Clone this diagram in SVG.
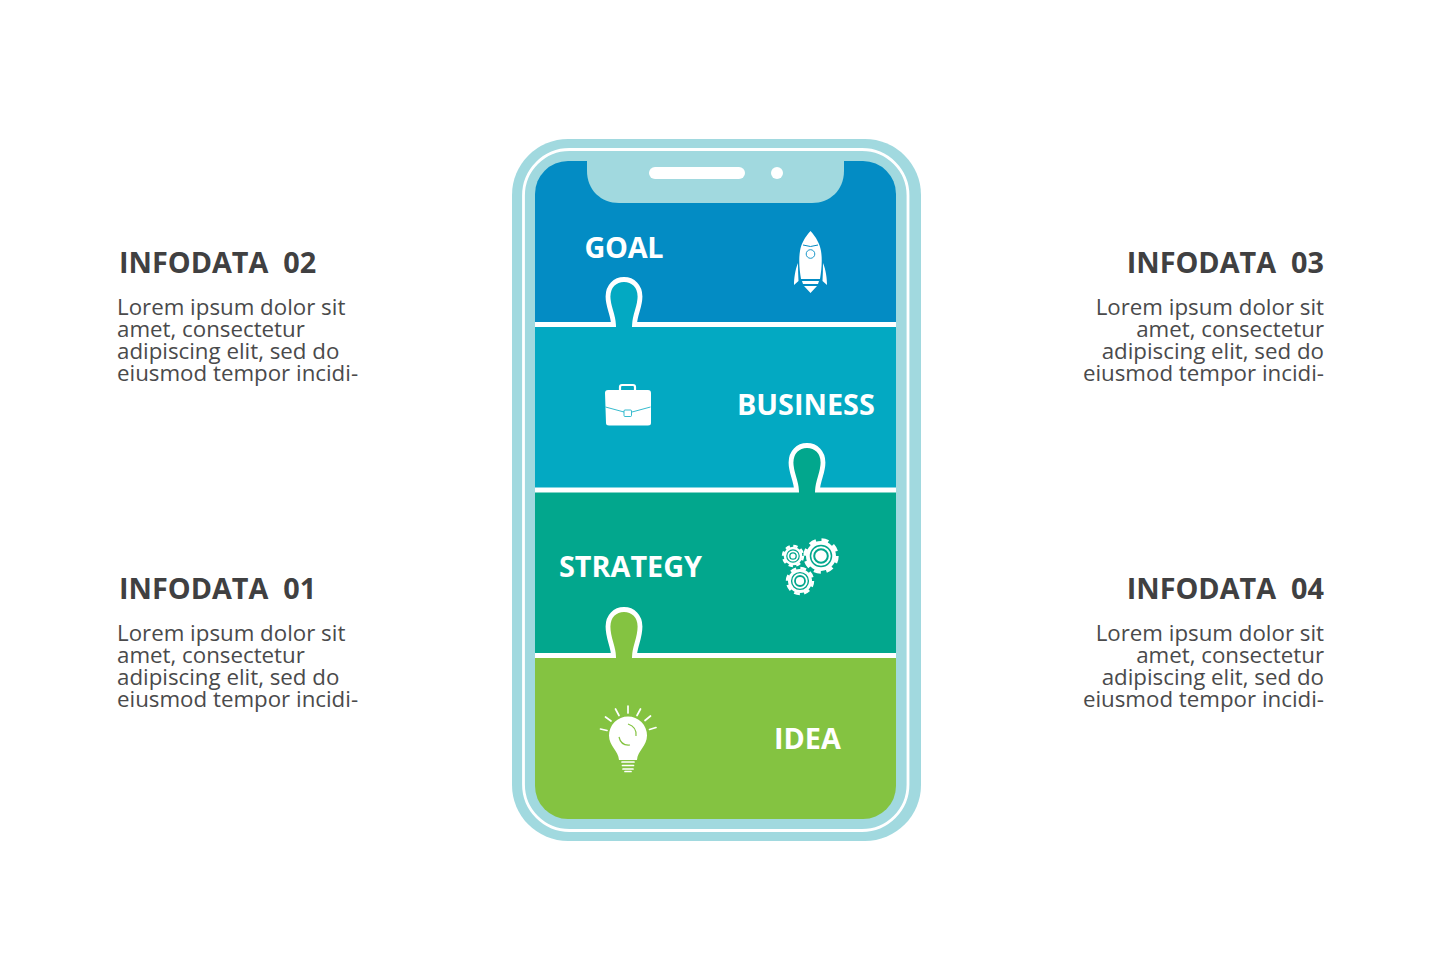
<svg xmlns="http://www.w3.org/2000/svg" width="1435" height="980" viewBox="0 0 1435 980">
<style>
text{font-family:"Open Sans","Noto Sans","DejaVu Sans",sans-serif}
.h{font-size:28.8px;font-weight:700;fill:#404041}
.b{font-size:22.3px;fill:#4a4a4b}
.r{text-anchor:end}
.l{font-size:28.8px;font-weight:700;fill:#fff}
.seam{fill:none;stroke:#fff;stroke-width:4.8}
.w{fill:#fff}
.ray{stroke:#fff;stroke-width:1.7;stroke-linecap:round;fill:none}
</style>
<defs>
<clipPath id="screen"><rect x="535" y="161" width="361" height="658" rx="33"/></clipPath>
</defs>
<rect width="1435" height="980" fill="#fff"/>
<g id="phone">
<rect x="512" y="139" width="409" height="702" rx="56" fill="#a1d9df"/>
<rect x="523.500" y="149.500" width="384.500" height="681" rx="46" fill="none" stroke="#fff" stroke-width="2.8"/>
</g>
<g clip-path="url(#screen)">
<g id="band-goal"><rect x="535" y="161" width="361" height="170" fill="#038cc4"/></g>
<g id="band-business">
<path fill="#03a9c2" d="M530 324.500H613.500C613 314 608 307 608 296.500C608 286 615 279.500 624 279.500C633 279.500 640 286 640 296.500C640 307 635 314 634.500 324.500H900V495H530Z"/>
<path class="seam" d="M530 324.500H613.500C613 314 608 307 608 296.500C608 286 615 279.500 624 279.500C633 279.500 640 286 640 296.500C640 307 635 314 634.500 324.500H900"/>
</g>
<g id="band-strategy">
<path fill="#02a78d" d="M530 490H796.500C796 480 791 473 791 462.500C791 452 798 445.500 807 445.500C816 445.500 823 452 823 462.500C823 473 818 480 817.500 490H900V660H530Z"/>
<path class="seam" d="M530 490H796.500C796 480 791 473 791 462.500C791 452 798 445.500 807 445.500C816 445.500 823 452 823 462.500C823 473 818 480 817.500 490H900"/>
</g>
<g id="band-idea">
<path fill="#84c341" d="M530 655.500H613.500C613 645.500 608 638.500 608 626.500C608 616 615 609.500 624 609.500C633 609.500 640 616 640 626.500C640 638.500 635 645.500 634.500 655.500H900V825H530Z"/>
<path class="seam" d="M530 655.500H613.500C613 645.500 608 638.500 608 626.500C608 616 615 609.500 624 609.500C633 609.500 640 616 640 626.500C640 638.500 635 645.500 634.500 655.500H900"/>
</g>
</g>
<g id="notch">
<path fill="#a1d9df" d="M587 161H844V171C844 190 830 203 812 203H619C601 203 587 190 587 171Z"/>
<rect x="649" y="167" width="96" height="12" rx="6" fill="#fff"/>
<circle cx="777" cy="173" r="6" fill="#fff"/>
</g>
<g id="label-goal">
<text class="l" x="584.500" y="257.500" textLength="79">GOAL</text>
<g id="icon-rocket">
<path class="w" d="M810.500 231C816 237 820 244 821 251C822.500 260 821.500 270 820 279H801C799.500 270 798.500 260 800 251C801 244 805 237 810.500 231Z"/>
<path class="w" d="M798 263C795 270 794 279 794 285L798.500 281C798.200 275 798 269 798 263ZM823 263C826 270 827 279 827 285L822.500 281C822.800 275 823 269 823 263Z"/>
<path class="w" d="M802 281H819L818 284H803ZM804 286H817L810.500 293Z"/>
<circle cx="810.500" cy="254" r="4.300" fill="none" stroke="#038cc4" stroke-width="0.9"/>
<path d="M803 245Q810.500 248 818 245" fill="none" stroke="#038cc4" stroke-width="1"/>
</g>
</g>
<g id="label-business">
<text class="l" x="737" y="414.500">BUSINESS</text>
<g id="icon-briefcase">
<path fill="none" stroke="#fff" stroke-width="2.2" d="M620 390V387Q620 385 622 385H633Q635 385 635 387V390"/>
<path class="w" d="M608 390H648Q651 390 651 393V423Q651 425.500 648 425.500H609Q606 425.500 606 423L605 393Q605 390 608 390Z"/>
<path fill="none" stroke="#03a9c2" stroke-width="0.8" d="M605.500 407L624 412M632 412L650.500 407"/>
<rect x="624" y="410" width="7.500" height="6.500" rx="1" fill="#fff" stroke="#03a9c2" stroke-width="0.8"/>
</g>
</g>
<g id="label-strategy">
<text class="l" x="559" y="576.500">STRATEGY</text>
<g id="icon-gears">
<g id="gear-large">
<circle cx="821" cy="556" r="15" fill="#fff"/>
<circle cx="821" cy="556" r="16" fill="none" stroke="#fff" stroke-width="3.4" stroke-dasharray="7 5.57"/>
<circle cx="821" cy="556" r="10.500" fill="none" stroke="#02a78d" stroke-width="1.5"/>
<circle cx="821" cy="556" r="6.800" fill="none" stroke="#02a78d" stroke-width="2"/>
</g>
<g id="gear-small">
<circle cx="793" cy="556" r="9.300" fill="#fff"/>
<circle cx="793" cy="556" r="10" fill="none" stroke="#fff" stroke-width="2.4" stroke-dasharray="4.400 3.450"/>
<circle cx="793" cy="556" r="6.200" fill="none" stroke="#02a78d" stroke-width="1.2"/>
<circle cx="793" cy="556" r="3.200" fill="none" stroke="#02a78d" stroke-width="1.3"/>
</g>
<g id="gear-mid">
<circle cx="800" cy="581" r="12" fill="#fff"/>
<circle cx="800" cy="581" r="12.800" fill="none" stroke="#fff" stroke-width="2.800" stroke-dasharray="5.800 4.250"/>
<circle cx="800" cy="581" r="8.400" fill="none" stroke="#02a78d" stroke-width="1.4"/>
<circle cx="800" cy="581" r="5" fill="none" stroke="#02a78d" stroke-width="1.8"/>
</g>
</g>
</g>
<g id="label-idea">
<text class="l" x="774" y="748.500">IDEA</text>
<g id="icon-bulb">
<path class="w" d="M619 760C618.500 751 609 746 609 735.500A19 19 0 0 1 647 735.500C647 746 637.500 751 637 760Z"/>
<path fill="none" stroke="#84c341" stroke-width="1.200" d="M628 724Q637 727 636 736M619 737Q621 746 630 745"/>
<path class="ray" d="M622 762H634M622.500 765.500H633.500M623 769H633M625 771.500H631"/>
<path class="ray" d="M628 706V713M615.500 709L619 715.500M605.500 717L611 721M600.500 729L607 730.500M640.500 709L637 715.500M650.500 716L645 720.500M656 727.500L649.500 729.500"/>
</g>
</g>
<g id="info-02">
<text class="h" x="119" y="273" xml:space="preserve">INFODATA  02</text>
<text class="b"><tspan x="117" y="315">Lorem ipsum dolor sit</tspan><tspan x="117" y="337">amet, consectetur</tspan><tspan x="117" y="359">adipiscing elit, sed do</tspan><tspan x="117" y="381">eiusmod tempor incidi-</tspan></text>
</g>
<g id="info-01">
<text class="h" x="119" y="599" xml:space="preserve">INFODATA  01</text>
<text class="b"><tspan x="117" y="641">Lorem ipsum dolor sit</tspan><tspan x="117" y="663">amet, consectetur</tspan><tspan x="117" y="685">adipiscing elit, sed do</tspan><tspan x="117" y="707">eiusmod tempor incidi-</tspan></text>
</g>
<g id="info-03">
<text class="h r" x="1324" y="273" xml:space="preserve">INFODATA  03</text>
<text class="b r"><tspan x="1324" y="315">Lorem ipsum dolor sit</tspan><tspan x="1324" y="337">amet, consectetur</tspan><tspan x="1324" y="359">adipiscing elit, sed do</tspan><tspan x="1324" y="381">eiusmod tempor incidi-</tspan></text>
</g>
<g id="info-04">
<text class="h r" x="1324" y="599" xml:space="preserve">INFODATA  04</text>
<text class="b r"><tspan x="1324" y="641">Lorem ipsum dolor sit</tspan><tspan x="1324" y="663">amet, consectetur</tspan><tspan x="1324" y="685">adipiscing elit, sed do</tspan><tspan x="1324" y="707">eiusmod tempor incidi-</tspan></text>
</g>
</svg>
